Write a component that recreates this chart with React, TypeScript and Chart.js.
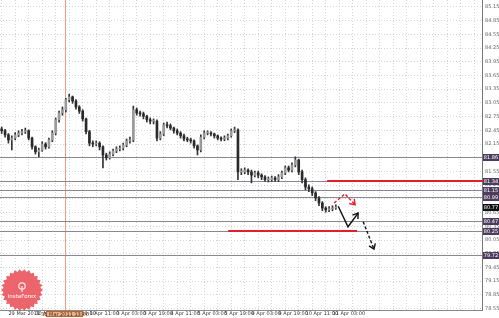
import { useEffect, useRef } from 'react';
import { Chart, registerables } from 'chart.js';
Chart.register(...registerables);

// 2-hour candles, index 0 = first candle on the left
const firstOpen = 82.48;
const closes = [
  82.44, 82.35, 82.24, 82.28, 82.35, 82.39, 82.42, 82.44, 82.28, 82.09,
  81.98, 82.02, 82.15, 82.09, 82.24, 82.39, 82.68, 82.83, 82.90, 83.12,
  83.18, 83.09, 82.96, 82.87, 82.70, 82.42, 82.17, 82.15, 82.17, 82.09,
  81.91, 81.85, 81.93, 82.00, 82.04, 82.06, 82.13, 82.22, 82.24, 82.90,
  82.83, 82.81, 82.76, 82.68, 82.65, 82.65, 82.28, 82.37, 82.57, 82.55,
  82.50, 82.44, 82.39, 82.33, 82.26, 82.24, 82.22, 82.11, 82.02, 82.30,
  82.39, 82.39, 82.37, 82.33, 82.28, 82.26, 82.28, 82.33, 82.44, 82.46,
  81.54, 81.54, 81.58, 81.54, 81.47, 81.52, 81.47, 81.43, 81.37, 81.37,
  81.41, 81.37, 81.43, 81.52, 81.63, 81.58, 81.69, 81.80, 81.54, 81.37,
  81.21, 81.17, 81.08, 80.97, 80.86, 80.75, 80.71, 80.73, 80.75, 80.77,
];
const highs = [
  82.52, 82.47, 82.38, 82.33, 82.40, 82.44, 82.47, 82.50, 82.46, 82.30,
  82.11, 82.06, 82.20, 82.18, 82.28, 82.44, 82.72, 82.87, 82.96, 83.15,
  83.24, 83.20, 83.12, 82.99, 82.90, 82.72, 82.45, 82.22, 82.22, 82.20,
  82.11, 81.95, 81.98, 82.04, 82.09, 82.11, 82.17, 82.26, 82.30, 82.98,
  82.94, 82.87, 82.85, 82.78, 82.72, 82.70, 82.68, 82.42, 82.61, 82.63,
  82.59, 82.52, 82.48, 82.42, 82.37, 82.30, 82.28, 82.24, 82.13, 82.35,
  82.44, 82.44, 82.42, 82.39, 82.35, 82.31, 82.33, 82.37, 82.48, 82.52,
  82.48, 81.61, 81.63, 81.61, 81.58, 81.56, 81.56, 81.50, 81.46, 81.43,
  81.45, 81.44, 81.48, 81.56, 81.67, 81.67, 81.74, 81.87, 81.82, 81.58,
  81.41, 81.26, 81.21, 81.11, 81.00, 80.89, 80.78, 80.78, 80.80, 80.82,
];
const lows = [
  82.38, 82.30, 82.17, 82.02, 82.24, 82.31, 82.35, 82.38, 82.24, 82.04,
  81.93, 81.87, 81.99, 82.04, 82.06, 82.20, 82.35, 82.63, 82.78, 82.85,
  83.07, 83.04, 82.91, 82.82, 82.65, 82.37, 82.11, 82.09, 82.11, 82.02,
  81.63, 81.80, 81.82, 81.89, 81.96, 82.00, 82.02, 82.09, 82.17, 82.20,
  82.78, 82.76, 82.70, 82.63, 82.59, 82.59, 82.22, 82.24, 82.33, 82.50,
  82.46, 82.39, 82.35, 82.28, 82.22, 82.20, 82.17, 82.06, 81.91, 81.98,
  82.26, 82.35, 82.33, 82.28, 82.24, 82.22, 82.22, 82.24, 82.30, 82.40,
  81.37, 81.48, 81.50, 81.48, 81.30, 81.43, 81.41, 81.37, 81.33, 81.32,
  81.33, 81.33, 81.33, 81.39, 81.48, 81.54, 81.54, 81.65, 81.48, 81.30,
  81.15, 81.11, 81.02, 80.91, 80.80, 80.69, 80.66, 80.67, 80.69, 80.72,
];

const yTicks = [
  78.55, 78.85, 79.15, 79.45, 79.75, 80.05, 80.35, 80.65, 80.95, 81.25, 81.55, 81.85,
  82.15, 82.45, 82.75, 83.05, 83.35, 83.65, 83.95, 84.25, 84.55, 84.85, 85.15,
];
const xLabelIdx = [2, 10, 18, 26, 34, 42, 50, 58, 66, 74, 82, 90, 98];
const xLabels = [
  '29 Mar 2011', '30 Mar 03:00', '30 Mar 19:00', '1 Apr 11:00', '3 Apr 03:00', '3 Apr 19:00',
  '4 Apr 11:00', '5 Apr 03:00', '5 Apr 19:00', '9 Apr 03:00', '9 Apr 19:00', '10 Apr 11:00', '11 Apr 03:00',
];
const X_MIN = -0.5;
const X_MAX = 142.3;
const Y_MIN = 78.52;
const Y_MAX = 85.3;

const levelPrices = [81.86, 81.34, 81.15, 80.99, 80.47, 80.25, 79.72];
const currentPrice = 80.77;
const redLevelPrices = [81.34, 80.25];
const redLevelFrom = [96.4, 67.1];
const redLevelTo = [142.3, 105.3];

const crosshairIdx = 18.75;
const crosshairText = '31 Mar 2011 13:00';

const redArrowIdx = [98.5, 101.7, 104.7];
const redArrowPrice = [80.86, 81.06, 80.82];
const blackArrowIdx = [99.7, 102.6, 105.6];
const blackArrowPrice = [80.79, 80.34, 80.64];
const dashArrowIdx = [107.1, 110.3];
const dashArrowPrice = [80.45, 79.85];

const overlay = {
  id: 'overlay',
  beforeDatasetsDraw(chart: any) {
    const { ctx, chartArea: a, scales } = chart;
    const xs = scales.x, ys = scales.y;
    ctx.save();
    const cx = Math.round(xs.getPixelForValue(crosshairIdx)) + 0.5;
    ctx.strokeStyle = '#f09a80';
    ctx.lineWidth = 1;
    ctx.beginPath(); ctx.moveTo(cx, 0); ctx.lineTo(cx, a.bottom); ctx.stroke();
    ctx.strokeStyle = '#8e8498';
    levelPrices.forEach((p) => {
      const y = Math.round(ys.getPixelForValue(p)) + 0.5;
      ctx.beginPath(); ctx.moveTo(a.left, y); ctx.lineTo(a.right, y); ctx.stroke();
    });
    ctx.restore();
  },
  afterDatasetsDraw(chart: any) {
    const { ctx, chartArea: a, scales } = chart;
    const xs = scales.x, ys = scales.y;
    ctx.save();
    ctx.strokeStyle = '#e3202a';
    ctx.lineWidth = 2;
    redLevelPrices.forEach((p, k) => {
      const y = Math.round(ys.getPixelForValue(p));
      ctx.beginPath();
      ctx.moveTo(xs.getPixelForValue(redLevelFrom[k]), y);
      ctx.lineTo(Math.min(a.right, xs.getPixelForValue(redLevelTo[k])), y);
      ctx.stroke();
    });
    const drawArrow = (idx: number[], pr: number[], color: string, dash: number[]) => {
      const pts = idx.map((v, k) => [xs.getPixelForValue(v), ys.getPixelForValue(pr[k])]);
      ctx.strokeStyle = color;
      ctx.lineWidth = 1.4;
      ctx.setLineDash(dash);
      ctx.beginPath();
      pts.forEach((p, k) => (k ? ctx.lineTo(p[0], p[1]) : ctx.moveTo(p[0], p[1])));
      ctx.stroke();
      const [x1, y1] = pts[pts.length - 2];
      const [x2, y2] = pts[pts.length - 1];
      const ang = Math.atan2(y2 - y1, x2 - x1);
      ctx.setLineDash([]);
      ctx.beginPath();
      ctx.moveTo(x2 - 6 * Math.cos(ang - 0.6), y2 - 6 * Math.sin(ang - 0.6));
      ctx.lineTo(x2, y2);
      ctx.lineTo(x2 - 6 * Math.cos(ang + 0.6), y2 - 6 * Math.sin(ang + 0.6));
      ctx.stroke();
    };
    drawArrow(redArrowIdx, redArrowPrice, '#e3202a', [3, 2]);
    drawArrow(blackArrowIdx, blackArrowPrice, '#111', []);
    drawArrow(dashArrowIdx, dashArrowPrice, '#111', [3, 2]);
    ctx.restore();
  },
  afterDraw(chart: any) {
    const { ctx, chartArea: a, scales, width } = chart;
    const xs = scales.x, ys = scales.y;
    ctx.save();
    ctx.font = '5px "DejaVu Sans"';
    ctx.textAlign = 'center';
    ctx.textBaseline = 'middle';
    const box = (p: number, fill: string) => {
      const y = Math.round(ys.getPixelForValue(p));
      ctx.fillStyle = fill;
      ctx.fillRect(a.right + 1, y - 3, width - a.right - 1, 7);
      ctx.fillStyle = '#fff';
      ctx.fillText(p.toFixed(2), (a.right + width) / 2 + 0.5, y + 0.5);
    };
    levelPrices.forEach((p) => box(p, '#4d3d5c'));
    box(currentPrice, '#111');
    ctx.fillStyle = '#e3202a';
    ctx.fillRect(a.right - 1, Math.round(ys.getPixelForValue(redLevelPrices[0])) - 1, 2, 2);
    const cx = xs.getPixelForValue(crosshairIdx);
    ctx.fillStyle = '#eab089';
    ctx.strokeStyle = '#b8652e';
    ctx.lineWidth = 1;
    ctx.fillRect(cx - 19, a.bottom + 1, 37, 6);
    ctx.strokeRect(cx - 18.5, a.bottom + 1.5, 36, 5);
    ctx.fillStyle = '#4a2a10';
    ctx.fillText(crosshairText, cx, a.bottom + 4.5);
    const bx = 22, by = 290;
    ctx.beginPath();
    const n = 26;
    for (let k = 0; k < n * 2; k++) {
      const r = k % 2 ? 18.5 : 21;
      const ang = (k * Math.PI) / n;
      const px = bx + r * Math.cos(ang), py = by + r * Math.sin(ang);
      if (k) ctx.lineTo(px, py); else ctx.moveTo(px, py);
    }
    ctx.closePath();
    ctx.fillStyle = 'rgba(234,80,88,0.88)';
    ctx.fill();
    ctx.strokeStyle = 'rgba(255,255,255,0.85)';
    ctx.lineWidth = 1.2;
    ctx.beginPath(); ctx.arc(bx, by - 4, 3.2, 0, Math.PI * 2); ctx.stroke();
    ctx.beginPath(); ctx.moveTo(bx, by - 4); ctx.lineTo(bx, by + 2); ctx.stroke();
    ctx.fillStyle = '#fff';
    ctx.font = '5.5px "DejaVu Sans"';
    ctx.fillText('InstaForex', bx, by + 7);
    ctx.restore();
  },
};

export default function App() {
  const ref = useRef<HTMLCanvasElement>(null);
  useEffect(() => {
    document.body.style.margin = '0';
    const opens = closes.map((c, i) => (i === 0 ? firstOpen : closes[i - 1]));
    const wickData = closes.map((_, i) => ({ x: i, y: [lows[i], highs[i]] }));
    const bodyData = closes.map((c, i) => ({ x: i, y: [opens[i], c] }));
    const bodyColors = closes.map((c, i) => (c >= opens[i] ? '#9a9a9a' : '#2a2a2a'));
    const chart = new Chart(ref.current as HTMLCanvasElement, {
      type: 'bar',
      data: {
        datasets: [
          { data: wickData as any, backgroundColor: '#333', barThickness: 1, grouped: false, order: 2 } as any,
          { data: bodyData as any, backgroundColor: bodyColors, barThickness: 2, grouped: false, minBarLength: 1, order: 1 } as any,
        ],
      },
      options: {
        animation: false,
        responsive: false,
        maintainAspectRatio: false,
        layout: { padding: 0 },
        plugins: { legend: { display: false }, tooltip: { enabled: false } },
        scales: {
          x: {
            type: 'linear',
            min: X_MIN,
            max: X_MAX,
            offset: false,
            afterBuildTicks: (s: any) => {
              const t = [];
              for (let v = -2; v <= X_MAX; v += 4) t.push({ value: v });
              s.ticks = t;
            },
            afterFit: (s: any) => {
              s.height = 8;
              s.paddingLeft = 0;
              s.paddingRight = 0;
            },
            ticks: {
              autoSkip: false,
              maxRotation: 0,
              align: 'start',
              padding: 1,
              font: { size: 5, family: 'DejaVu Sans' },
              color: '#333',
              callback: (v: any) => {
                const k = xLabelIdx.indexOf(Number(v));
                return k >= 0 ? xLabels[k] : '';
              },
            },
            grid: { color: '#d6d6d6', drawTicks: false },
            border: { color: '#888', dash: [1, 2] },
          },
          y: {
            type: 'linear',
            position: 'right',
            min: Y_MIN,
            max: Y_MAX,
            afterBuildTicks: (s: any) => {
              s.ticks = yTicks.map((v) => ({ value: v }));
            },
            afterFit: (s: any) => {
              s.width = 17;
              s.paddingTop = 0;
              s.paddingBottom = 0;
            },
            ticks: {
              padding: 3,
              font: { size: 5, family: 'DejaVu Sans' },
              color: '#666',
              callback: (v: any) => Number(v).toFixed(2),
            },
            grid: { color: '#d6d6d6', drawTicks: false },
            border: { color: '#777', dash: [1, 2] },
          },
        },
      } as any,
      plugins: [overlay],
    });
    return () => chart.destroy();
  }, []);
  return (
    <div style={{ width: 499, height: 318 }}>
      <canvas ref={ref} width={499} height={318} style={{ display: 'block' }} />
    </div>
  );
}
